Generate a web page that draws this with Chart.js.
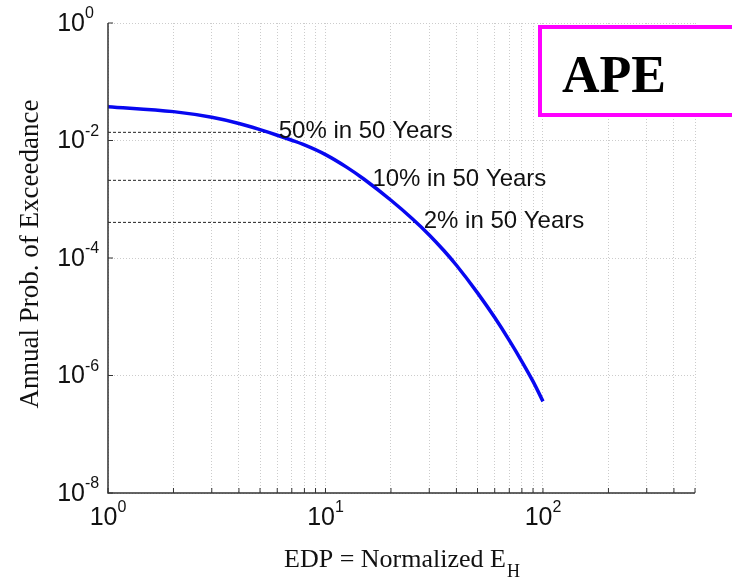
<!DOCTYPE html>
<html>
<head>
<meta charset="utf-8">
<script src="https://cdn.jsdelivr.net/npm/chart.js@4.4.1/dist/chart.umd.min.js"></script>
<style>
  html, body { margin: 0; padding: 0; background: #fff; }
  #wrap { width: 732px; height: 584px; }
</style>
</head>
<body>
<div id="wrap"><canvas id="apeChart" width="732" height="584"></canvas></div>
<script>
// hazard curve
var edp = [1, 2, 3, 4, 5, 6, 7, 8, 10, 12.5, 15, 20, 25, 30, 35, 40, 50, 60, 70, 80, 90, 100];
var ape = [0.0376, 0.0310, 0.0248, 0.0195, 0.0153, 0.0123, 0.0101, 0.00841, 0.00575, 0.00352,
           0.00221, 0.000962, 0.000471, 0.000247, 0.000134, 0.0000752, 0.0000255, 0.00000968,
           0.00000396, 0.00000173, 0.000000794, 0.000000363];

// hazard levels (dashed lines)
var levelNames = ['50% in 50 Years', '10% in 50 Years', '2% in 50 Years'];
var levelApe = [0.01377, 0.0021, 0.000404];
var levelEdp = [5.6, 15.1, 26.0];

// axis ticks
var xTicks = [1, 2, 3, 4, 5, 6, 7, 8, 9, 10, 20, 30, 40, 50, 60, 70, 80, 90, 100, 200, 300, 400, 500];
var xLabelTicks = [1, 10, 100];
var yTicks = [1e-8, 1e-6, 1e-4, 1e-2, 1];

var datasets = [{
    data: edp.map(function (x, i) { return { x: x, y: ape[i] }; }),
    borderColor: '#0808f0',
    borderWidth: 3.5,
    pointRadius: 0,
    cubicInterpolationMode: 'monotone',
    fill: false
}];
levelApe.forEach(function (y, i) {
    datasets.push({
        data: [{ x: 1, y: y }, { x: levelEdp[i], y: y }],
        borderColor: '#222',
        borderWidth: 1,
        borderDash: [3, 2],
        pointRadius: 0,
        fill: false
    });
});

function supText(ctx, base, exp, x, y, align) {
    ctx.font = '25px "Liberation Sans", Arial, sans-serif';
    var wb = ctx.measureText(base).width;
    ctx.font = '16px "Liberation Sans", Arial, sans-serif';
    var we = ctx.measureText(exp).width;
    var left = align === 'center' ? x - (wb + we) / 2 : x - wb;
    ctx.textAlign = 'left';
    ctx.textBaseline = 'middle';
    ctx.font = '25px "Liberation Sans", Arial, sans-serif';
    ctx.fillText(base, left, y);
    ctx.textBaseline = 'alphabetic';
    ctx.font = '16px "Liberation Sans", Arial, sans-serif';
    ctx.fillText(exp, left + wb, y - 6);
}

var decorations = {
    id: 'decorations',
    afterDraw: function (chart) {
        var ctx = chart.ctx;
        var xs = chart.scales.x, ys = chart.scales.y;
        var a = chart.chartArea;
        ctx.save();

        // axis lines
        ctx.strokeStyle = '#333';
        ctx.lineWidth = 1.5;
        ctx.beginPath();
        ctx.moveTo(a.left, a.top);
        ctx.lineTo(a.left, a.bottom);
        ctx.lineTo(a.right, a.bottom);
        ctx.stroke();

        // inward tick marks
        ctx.lineWidth = 1;
        xTicks.forEach(function (v) {
            var px = xs.getPixelForValue(v);
            ctx.beginPath();
            ctx.moveTo(px, a.bottom);
            ctx.lineTo(px, a.bottom - 5);
            ctx.stroke();
        });
        yTicks.forEach(function (v) {
            var py = ys.getPixelForValue(v);
            ctx.beginPath();
            ctx.moveTo(a.left, py);
            ctx.lineTo(a.left + 5, py);
            ctx.stroke();
        });

        // tick labels
        ctx.fillStyle = '#111';
        yTicks.forEach(function (v) {
            var e = Math.round(Math.log10(v));
            supText(ctx, '10', e < 0 ? '-' + (-e) : String(e), 85, ys.getPixelForValue(v) + 1, 'right');
        });
        xLabelTicks.forEach(function (v) {
            var e = Math.round(Math.log10(v));
            supText(ctx, '10', String(e), xs.getPixelForValue(v), 518, 'center');
        });

        // hazard level labels
        ctx.font = '24px "Liberation Sans", Arial, sans-serif';
        ctx.textAlign = 'left';
        ctx.textBaseline = 'middle';
        ctx.fillStyle = '#111';
        levelNames.forEach(function (t, i) {
            ctx.fillText(t, xs.getPixelForValue(levelEdp[i]) + 8, ys.getPixelForValue(levelApe[i]) - 1);
        });

        // axis titles
        ctx.font = '26px "Liberation Serif", "Times New Roman", serif';
        ctx.textBaseline = 'alphabetic';
        var t1 = 'EDP = Normalized E';
        var w1 = ctx.measureText(t1).width;
        ctx.font = '18px "Liberation Serif", "Times New Roman", serif';
        var w2 = ctx.measureText('H').width;
        var cx = (a.left + a.right) / 2;
        var lx = cx - (w1 + w2) / 2;
        ctx.font = '26px "Liberation Serif", "Times New Roman", serif';
        ctx.fillText(t1, lx, 567);
        ctx.font = '18px "Liberation Serif", "Times New Roman", serif';
        ctx.fillText('H', lx + w1 + 1, 577);

        ctx.save();
        ctx.translate(31, (a.top + a.bottom) / 2 - 4);
        ctx.rotate(-Math.PI / 2);
        ctx.font = '27px "Liberation Serif", "Times New Roman", serif';
        ctx.textAlign = 'center';
        ctx.textBaseline = 'middle';
        ctx.fillText('Annual Prob. of Exceedance', 0, 0);
        ctx.restore();

        // APE box
        ctx.fillStyle = '#fff';
        ctx.fillRect(540, 26, 200, 90);
        ctx.strokeStyle = '#ff00ff';
        ctx.lineWidth = 4;
        ctx.strokeRect(540, 27, 200, 88);
        ctx.fillStyle = '#000';
        ctx.font = 'bold 52px "Liberation Serif", "Times New Roman", serif';
        ctx.textAlign = 'left';
        ctx.textBaseline = 'alphabetic';
        ctx.fillText('APE', 562, 92);

        ctx.restore();
    }
};

var ctx = document.getElementById('apeChart').getContext('2d');
var myChart = new Chart(ctx, {
    type: 'line',
    data: { datasets: datasets },
    options: {
        responsive: false,
        animation: false,
        layout: { padding: { top: 23, right: 37, left: 0, bottom: 0 } },
        plugins: { legend: { display: false }, tooltip: { enabled: false } },
        scales: {
            x: {
                type: 'logarithmic',
                min: 1,
                max: 500,
                afterBuildTicks: function (s) { s.ticks = xTicks.map(function (v) { return { value: v }; }); },
                afterFit: function (s) { s.height = 91; },
                ticks: { display: false, autoSkip: false },
                grid: { color: '#cccccc', lineWidth: 1, drawTicks: false },
                border: { display: false, dash: [1, 2] }
            },
            y: {
                type: 'logarithmic',
                min: 1e-8,
                max: 1,
                afterBuildTicks: function (s) { s.ticks = yTicks.map(function (v) { return { value: v }; }); },
                afterFit: function (s) { s.width = 108; },
                ticks: { display: false, autoSkip: false },
                grid: { color: '#cccccc', lineWidth: 1, drawTicks: false },
                border: { display: false, dash: [1, 2] }
            }
        }
    },
    plugins: [decorations]
});
</script>
</body>
</html>
